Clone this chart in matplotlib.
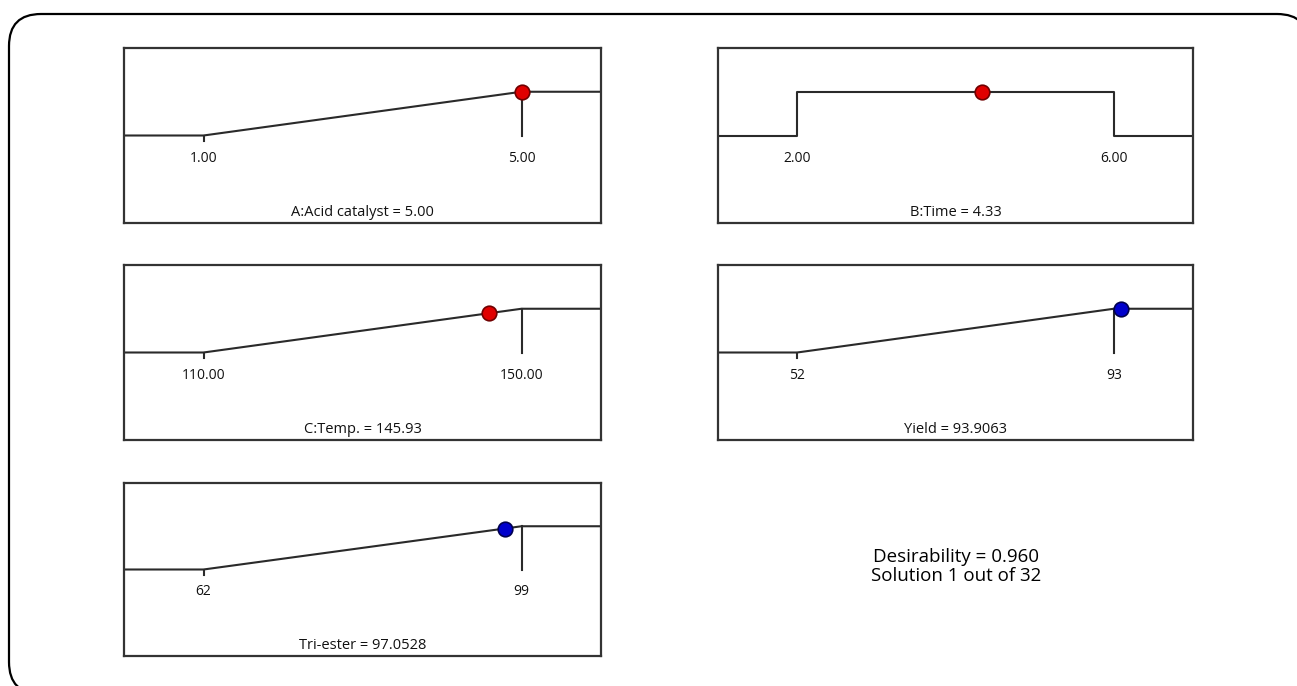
import numpy as np
import matplotlib.pyplot as plt
from matplotlib.patches import FancyBboxPatch

plt.rcParams['font.family'] = ['Open Sans', 'DejaVu Sans']

# optimisation results: factors and responses
names = ["A:Acid catalyst", "B:Time", "C:Temp.", "Yield", "Tri-ester"]
low = [1.00, 2.00, 110.00, 52, 62]
high = [5.00, 6.00, 150.00, 93, 99]
optimum = [5.00, 4.33, 145.93, 93.9063, 97.0528]
optimum_text = ["5.00", "4.33", "145.93", "93.9063", "97.0528"]
low_text = ["1.00", "2.00", "110.00", "52", "62"]
high_text = ["5.00", "6.00", "150.00", "93", "99"]
goal = ["maximize", "in range", "maximize", "maximize", "maximize"]
kind = ["factor", "factor", "factor", "response", "response"]
desirability = "0.960"
solution = "Solution 1 out of 32"

W, H = 1297, 686
fig = plt.figure(figsize=(W / 100, H / 100), dpi=100)

# rounded outer frame
bg = fig.add_axes([0, 0, 1, 1])
bg.set_xlim(0, W)
bg.set_ylim(H, 0)
bg.axis('off')
bg.add_patch(FancyBboxPatch((9, 14), 1300, 680, boxstyle="round,pad=0,rounding_size=32",
                            fc='white', ec='black', lw=1.6))

# panel boxes in pixels: left, right, top, bottom
boxes = [(124, 601, 48, 223), (718, 1193, 48, 223),
         (124, 601, 265, 440), (718, 1193, 265, 440),
         (124, 601, 483, 656)]

line_c = '#2a2a2a'
for i, (l, r, t, b) in enumerate(boxes):
    ax = fig.add_axes([l / W, 1 - b / H, (r - l) / W, (b - t) / H])
    lo, hi = low[i], high[i]
    span = hi - lo
    x0, x1 = lo - 0.25 * span, hi + 0.25 * span
    ax.set_xlim(x0, x1)
    ax.set_ylim(-2, 2)
    ax.set_xticks([])
    ax.set_yticks([])
    for s in ax.spines.values():
        s.set_color('#333333')
        s.set_linewidth(1.6)

    if goal[i] == "in range":
        ax.plot([x0, lo, lo, hi, hi, x1], [0, 0, 1, 1, 0, 0], color=line_c, lw=1.5)
        d = 1.0 if lo <= optimum[i] <= hi else 0.0
    else:
        ax.plot([x0, lo, hi, x1], [0, 0, 1, 1], color=line_c, lw=1.5)
        ax.plot([lo, lo], [0, -0.13], color=line_c, lw=1.5)
        ax.plot([hi, hi], [1, 0], color=line_c, lw=1.5)
        d = float(np.clip((optimum[i] - lo) / span, 0, 1))

    ax.text(lo, -0.52, low_text[i], ha='center', va='center', fontsize=10, color='#111111')
    ax.text(hi, -0.52, high_text[i], ha='center', va='center', fontsize=10, color='#111111')
    ax.text((x0 + x1) / 2, -1.75, f"{names[i]} = {optimum_text[i]}",
            ha='center', va='center', fontsize=10.5, color='#111111')

    if kind[i] == "factor":
        fc, ec = '#e00000', '#700000'
    else:
        fc, ec = '#0000cc', '#000050'
    ax.plot([optimum[i]], [d], 'o', ms=10.5, mfc=fc, mec=ec, mew=1.2, zorder=5, clip_on=False)

fig.text(956 / W, 1 - 557 / H, f"Desirability = {desirability}", ha='center', va='center', fontsize=13.5)
fig.text(956 / W, 1 - 576 / H, solution, ha='center', va='center', fontsize=13.5)

fig.savefig('out.png', dpi=100)
